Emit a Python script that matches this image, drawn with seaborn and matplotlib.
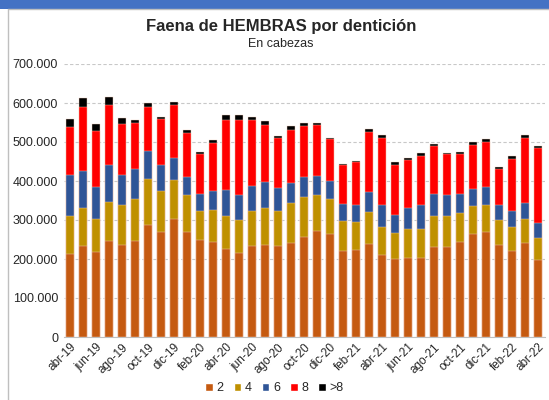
import numpy as np
import pandas as pd
import seaborn as sns
import matplotlib.pyplot as plt
from matplotlib.patches import Patch, Rectangle
from matplotlib.ticker import FuncFormatter

months = ['abr-19', 'may-19', 'jun-19', 'jul-19', 'ago-19', 'sep-19', 'oct-19', 'nov-19', 'dic-19',
          'ene-20', 'feb-20', 'mar-20', 'abr-20', 'may-20', 'jun-20', 'jul-20', 'ago-20', 'sep-20',
          'oct-20', 'nov-20', 'dic-20', 'ene-21', 'feb-21', 'mar-21', 'abr-21', 'may-21', 'jun-21',
          'jul-21', 'ago-21', 'sep-21', 'oct-21', 'nov-21', 'dic-21', 'ene-22', 'feb-22', 'mar-22',
          'abr-22']

# values in thousands of head
d2 = [213, 234, 217, 247, 237, 245, 287, 268, 303, 270, 248, 244, 226, 216, 234, 237, 234, 242,
      256, 273, 265, 221, 224, 239, 209, 199, 203, 203, 232, 232, 244, 264, 268, 237, 221, 241, 197]
d4 = [97, 96, 86, 100, 101, 108, 117, 107, 100, 94, 75, 82, 84, 83, 88, 93, 90, 101,
      102, 91, 88, 76, 71, 81, 73, 67, 73, 75, 78, 77, 73, 71, 70, 64, 60, 62, 56]
d6 = [105, 95, 82, 93, 78, 77, 74, 66, 56, 45, 43, 49, 67, 64, 66, 67, 57, 52,
      52, 50, 47, 44, 43, 53, 56, 47, 56, 60, 56, 55, 49, 44, 47, 37, 43, 41, 39]
d8 = [124, 166, 142, 156, 131, 119, 113, 119, 136, 115, 102, 122, 179, 193, 168, 147, 128, 137,
      132, 130, 108, 101, 111, 153, 171, 129, 121, 125, 124, 104, 102, 114, 116, 93, 132, 165, 192]
dmas8 = [21, 22, 19, 20, 15, 8, 8, 5, 8, 8, 7, 7, 12, 13, 9, 10, 6, 10,
         8, 6, 3, 2, 3, 8, 8, 7, 6, 8, 6, 5, 6, 6, 7, 5, 7, 8, 7]

series = ['2', '4', '6', '8', '>8']
colors = ['#C55A11', '#BF9000', '#2F5597', '#FF0000', '#000000']

df = pd.DataFrame({'mes': months, '2': d2, '4': d4, '6': d6, '8': d8, '>8': dmas8})
for s in series:
    df[s] = df[s] * 1000
cum = df[series].cumsum(axis=1)

sns.set_style('white')
plt.rcParams['font.family'] = ['Liberation Sans', 'DejaVu Sans']

fig = plt.figure(figsize=(5.49, 4.0), dpi=100)
ax = fig.add_axes([0.116, 0.1575, 0.876, 0.6825])

# draw cumulative totals from top layer down so lower layers overlay
for s, c in reversed(list(zip(series, colors))):
    sns.barplot(x=df['mes'], y=cum[s], color=c, width=0.62, saturation=1,
                edgecolor='#f4d0c0', linewidth=0.3, ax=ax, zorder=3)

ax.set_ylim(0, 700000)
ax.set_xlim(-0.5, len(months) - 0.5)
ax.set_yticks(np.arange(0, 700001, 100000))
ax.yaxis.set_major_formatter(FuncFormatter(lambda v, p: f'{int(v):,}'.replace(',', '.')))
ax.grid(axis='y', color='#c8c8c8', linestyle=(0, (3, 2)), linewidth=0.8, zorder=0)
ax.set_axisbelow(True)

ax.set_xticks(range(0, len(months), 2))
ax.set_xticklabels(months[::2], rotation=45, ha='right', rotation_mode='anchor', fontsize=8.5)
ax.tick_params(axis='y', labelsize=9, length=0, pad=4)
ax.tick_params(axis='x', length=0, pad=3)
ax.set_xlabel('')
ax.set_ylabel('')
for sp in ['top', 'right', 'left']:
    ax.spines[sp].set_visible(False)
ax.spines['bottom'].set_color('#bfbfbf')

fig.text(0.512, 0.935, 'Faena de HEMBRAS por dentición', ha='center', va='center',
         fontsize=12, fontweight='heavy')
fig.text(0.512, 0.89, 'En cabezas', ha='center', va='center', fontsize=9)

# blue header strip and chart frame
fig.add_artist(Rectangle((0, 0.9775), 1, 0.0225, transform=fig.transFigure,
                         facecolor='#4472C4', edgecolor='none'))
fig.add_artist(plt.Line2D([0.014, 1.0], [0.9765, 0.9765], color='#bfbfbf', linewidth=1))
fig.add_artist(plt.Line2D([0.014, 0.014], [0.0, 0.9765], color='#bfbfbf', linewidth=1))

handles = [Patch(facecolor=c, label=s) for s, c in zip(series, colors)]
fig.legend(handles=handles, loc='center', bbox_to_anchor=(0.5, 0.03), ncol=5, frameon=False,
           fontsize=9, handlelength=0.6, handleheight=0.6, handletextpad=0.3, columnspacing=0.8)

fig.savefig('out.png', dpi=100)
